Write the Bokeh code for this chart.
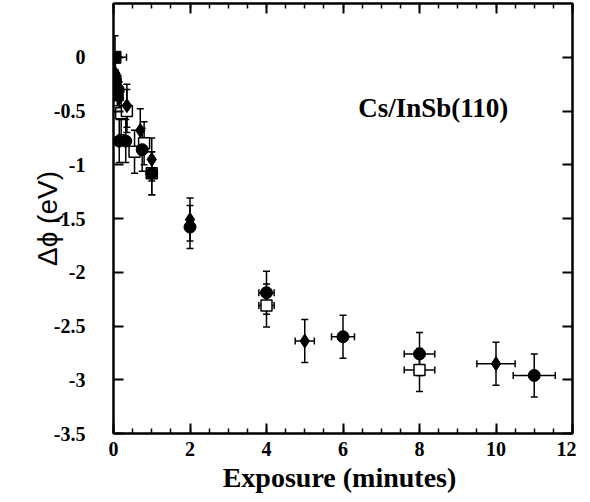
import numpy as np
from bokeh.plotting import figure
from bokeh.models import (ColumnDataSource, Whisker, TeeHead, LinearAxis, FixedTicker,
                          Range1d, Label, CustomJSTickFormatter)
from bokeh.embed import file_html
from bokeh.resources import INLINE

# ---- data ----
# filled circles
circ_x = [0.05, 0.12, 0.15, 0.32, 0.75, 1.0, 2.0, 4.0, 6.0, 8.0, 11.0]
circ_y = [-0.22, -0.30, -0.78, -0.78, -0.86, -1.08, -1.58, -2.19, -2.60, -2.76, -2.96]
circ_xerr = [0, 0, 0, 0, 0, 0, 0, 0.2, 0.3, 0.4, 0.55]
circ_yerr = [0.1, 0.1, 0.2, 0.2, 0.2, 0.2, 0.2, 0.2, 0.2, 0.2, 0.2]

# filled diamonds
diam_x = [0.05, 0.15, 0.35, 0.7, 1.0, 2.0, 5.0, 10.0]
diam_y = [-0.15, -0.38, -0.45, -0.68, -0.95, -1.51, -2.64, -2.85]
diam_xerr = [0, 0, 0, 0, 0, 0, 0.25, 0.5]
diam_yerr = [0.1, 0.15, 0.2, 0.2, 0.2, 0.2, 0.2, 0.2]

# open squares
osq_x = [0.2, 0.35, 0.55, 0.8, 1.0, 4.0, 8.0]
osq_y = [-0.52, -0.50, -0.88, -0.80, -1.08, -2.31, -2.91]
osq_xerr = [0, 0, 0, 0, 0, 0.2, 0.4]
osq_yerr = [0.2, 0.2, 0.2, 0.2, 0.2, 0.2, 0.2]

# filled squares
fsq_x = [0.04, 0.04, 0.1]
fsq_y = [0.0, -0.22, -0.35]
fsq_xerr = [0.3, 0, 0]
fsq_yerr = [0.2, 0.1, 0.1]

x_ticks = [0, 2, 4, 6, 8, 10, 12]
y_ticks = [0, -0.5, -1, -1.5, -2, -2.5, -3, -3.5]
y_tick_labels = ["0", "-0.5", "-1", "-1.5", "-2", "-2.5", "-3", "-3.5"]

FONT = "Liberation Serif"

p = figure(frame_width=459, frame_height=430, output_backend="svg", toolbar_location=None,
           x_range=Range1d(0, 12), y_range=Range1d(-3.5, 0.5),
           min_border_left=113, min_border_right=4, min_border_top=3, min_border_bottom=10)
p.background_fill_color = "white"
p.border_fill_color = "white"
p.grid.visible = False
p.outline_line_color = "black"
p.outline_line_width = 2

def style_axis(ax, ticks, minor):
    ax.ticker = FixedTicker(ticks=ticks, minor_ticks=minor)
    ax.axis_line_width = 2
    ax.axis_line_color = "black"
    ax.major_tick_in = 10
    ax.major_tick_out = 0
    ax.minor_tick_in = 5
    ax.minor_tick_out = 0
    ax.major_tick_line_width = 2
    ax.minor_tick_line_width = 1.5
    ax.major_tick_line_color = "black"
    ax.minor_tick_line_color = "black"
    ax.major_label_text_font = FONT
    ax.major_label_text_font_style = "bold"
    ax.major_label_text_font_size = "20px"
    ax.major_label_text_color = "black"

x_minor = list(np.arange(0, 12.01, 0.5))
style_axis(p.xaxis[0], x_ticks, x_minor)
style_axis(p.yaxis[0], y_ticks, [])
p.xaxis[0].major_label_standoff = 8
p.yaxis[0].major_label_standoff = 28
p.yaxis[0].major_label_overrides = {t: l for t, l in zip(y_ticks, y_tick_labels)}

p.xaxis.axis_label = "Exposure  (minutes)"
p.xaxis.axis_label_text_font = FONT
p.xaxis.axis_label_text_font_style = "bold"
p.xaxis.axis_label_text_font_size = "28px"
p.xaxis.axis_label_text_color = "black"
p.xaxis.axis_label_standoff = 3

p.yaxis.axis_label = "\u0394\u03d5 (eV)"
p.yaxis.axis_label_text_font = "Liberation Sans"
p.yaxis.axis_label_text_font_style = "normal"
p.yaxis.axis_label_text_font_size = "28px"
p.yaxis.axis_label_text_color = "black"
p.yaxis.axis_label_standoff = -12

blank = CustomJSTickFormatter(code="return ''")
top = LinearAxis(formatter=blank)
style_axis(top, x_ticks, x_minor)
top.major_label_text_font_size = "1px"
top.major_label_standoff = 0
p.add_layout(top, "above")
right = LinearAxis(formatter=blank)
style_axis(right, y_ticks, [])
right.major_label_text_font_size = "1px"
right.major_label_standoff = 0
p.add_layout(right, "right")

def make_src(xs, ys, xe, ye):
    d = dict(x=xs, y=ys,
             yl=[y - e for y, e in zip(ys, ye)], yu=[y + e for y, e in zip(ys, ye)],
             xl=[x - e for x, e in zip(xs, xe)], xu=[x + e for x, e in zip(xs, xe)])
    return ColumnDataSource(d)

def add_err(src, xe):
    p.add_layout(Whisker(source=src, base="x", lower="yl", upper="yu", dimension="height",
                         line_width=1.5, line_color="black",
                         upper_head=TeeHead(size=7, line_width=1.5),
                         lower_head=TeeHead(size=7, line_width=1.5)))
    idx = [i for i, e in enumerate(xe) if e > 0]
    d = {k: [v[i] for i in idx] for k, v in src.data.items()}
    hs = ColumnDataSource(d)
    p.add_layout(Whisker(source=hs, base="y", lower="xl", upper="xu", dimension="width",
                         line_width=1.5, line_color="black",
                         upper_head=TeeHead(size=7, line_width=1.5),
                         lower_head=TeeHead(size=7, line_width=1.5)))

s_osq = make_src(osq_x, osq_y, osq_xerr, osq_yerr)
s_circ = make_src(circ_x, circ_y, circ_xerr, circ_yerr)
s_diam = make_src(diam_x, diam_y, diam_xerr, diam_yerr)
s_fsq = make_src(fsq_x, fsq_y, fsq_xerr, fsq_yerr)

p.scatter("x", "y", source=s_osq, marker="square", size=11, fill_color="white",
          line_color="black", line_width=1.5)
p.scatter("x", "y", source=s_circ, marker="circle", size=12, fill_color="black", line_color="black")
p.scatter("x", "y", source=s_diam, marker="diamond", size=14, fill_color="black", line_color="black")
p.scatter("x", "y", source=s_fsq, marker="square", size=12, fill_color="black", line_color="black")

for s, xe in [(s_osq, osq_xerr), (s_circ, circ_xerr), (s_diam, diam_xerr), (s_fsq, fsq_xerr)]:
    add_err(s, xe)

p.add_layout(Label(x=6.4, y=-0.47, text="Cs/InSb(110)", text_font=FONT, text_font_style="bold",
                   text_font_size="27px", text_baseline="middle", text_color="black"))

open("out.html", "w").write(file_html(p, INLINE))
